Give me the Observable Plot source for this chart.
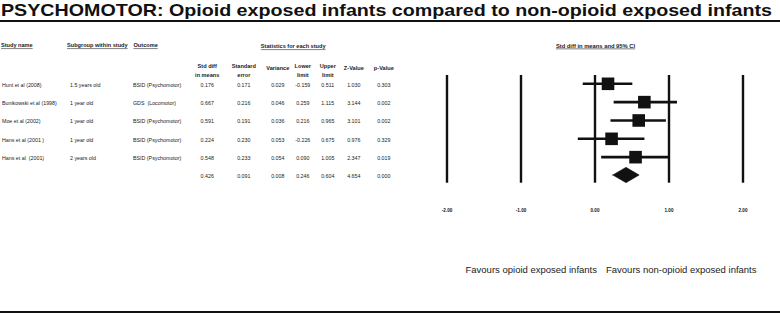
<!DOCTYPE html>
<html><head><meta charset="utf-8">
<script src="https://cdn.jsdelivr.net/npm/d3@7"></script>
<script src="https://cdn.jsdelivr.net/npm/@observablehq/plot@0.6"></script>
<style>
html,body{margin:0;padding:0;background:#fff;}
#wrap{position:relative;width:780px;height:313px;overflow:hidden;}
#wrap svg{position:absolute;left:0;top:0;}
.hr{position:absolute;left:0;width:780px;background:#111;}
</style></head><body><div id="wrap"></div>
<script>
// ---------- data ----------
const title = "PSYCHOMOTOR: Opioid exposed infants compared to non-opioid exposed infants";
const studies   = ["Hunt et al (2008)", "Bunikowski et al (1998)", "Moe et al (2002)", "Hans et al (2001 )", "Hans et al  (2001)"];
const subgroups = ["1.5 years old", "1 year old", "1 year old", "1 year old", "2 years old"];
const outcomes  = ["BSID (Psychomotor)", "GDS  (Locomotor)", "BSID (Psychomotor)", "BSID (Psychomotor)", "BSID (Psychomotor)"];
// last entry of each statistic = pooled (summary) row
const stdDiff  = [0.176, 0.667, 0.591, 0.224, 0.548, 0.426];
const stdErr   = [0.171, 0.216, 0.191, 0.230, 0.233, 0.091];
const variance = [0.029, 0.046, 0.036, 0.053, 0.054, 0.008];
const lower    = [-0.159, 0.259, 0.216, -0.226, 0.090, 0.246];
const upper    = [0.511, 1.115, 0.965, 0.675, 1.005, 0.604];
const zValue   = [1.030, 3.144, 3.101, 0.976, 2.347, 4.654];
const pValue   = [0.303, 0.002, 0.002, 0.329, 0.019, 0.000];
const tickValues = [-2, -1, 0, 1, 2];
const tickLabels = ["-2.00", "-1.00", "0.00", "1.00", "2.00"];
const favourLeft  = "Favours opioid exposed infants";
const favourRight = "Favours non-opioid exposed infants";
const leftHeaders  = ["Study name", "Subgroup within study", "Outcome"];
const statsHeader  = "Statistics for each study";
const plotHeader   = "Std diff in means and 95% CI";
const twoLineHeaders = ["Std diff\nin means", "Standard\nerror", "Lower\nlimit", "Upper\nlimit"];
const oneLineHeaders = ["Variance", "Z-Value", "p-Value"];

// ---------- layout (pixels, not data) ----------
const FONT = "Liberation Sans, Arial, Helvetica, sans-serif";
const leftColX   = [1.5, 69.5, 132.5];
const leftHeadX  = [0.5, 66.5, 133];
const twoLineX   = [206.7, 243.3, 302.3, 327.3];
const oneLineX   = [277.3, 353.3, 383.3];
const numColX    = [206.7, 243.3, 277.3, 302.3, 327.3, 353.3, 383.3];
const HEAD_FS = 5.6, DATA_FS = 5.3;

const rows = stdDiff.map((d, i) => ({
  i, study: studies[i] ?? "", subgroup: subgroups[i] ?? "", outcome: outcomes[i] ?? "",
  stdDiff: d, stdErr: stdErr[i], variance: variance[i], lower: lower[i], upper: upper[i],
  z: zValue[i], p: pValue[i]
}));
const studyRows = rows.slice(0, studies.length);
const pooled = rows[rows.length - 1];
const fmt = v => v.toFixed(3);
const numKeys = ["stdDiff", "stdErr", "variance", "lower", "upper", "z", "p"];
const strKeys = ["study", "subgroup", "outcome"];

const H = 0.42; // diamond half height in row units
const diamond = [
  {x: pooled.lower, y1: pooled.i, y2: pooled.i},
  {x: pooled.stdDiff, y1: pooled.i - H, y2: pooled.i + H},
  {x: pooled.upper, y1: pooled.i, y2: pooled.i}
];

const txt = "#222";
const marks = [];
marks.push(Plot.text([title], {text: d => d, frameAnchor: "top-left", dx: 0.5, dy: 3.4, lineAnchor: "top",
  fontSize: 16.4, fontWeight: "bold", fill: "#111", textAnchor: "start"}));
leftHeaders.forEach((h, k) => marks.push(Plot.text([h], {text: d => d, frameAnchor: "top-left", dx: leftHeadX[k], dy: 43,
  textAnchor: "start", fontWeight: "bold", fontSize: HEAD_FS, fill: txt})));
marks.push(Plot.text([statsHeader], {text: d => d, frameAnchor: "top-left", dx: 292.7, dy: 44,
  textAnchor: "middle", fontWeight: "bold", fontSize: HEAD_FS, fill: txt}));
marks.push(Plot.text([plotHeader], {text: d => d, frameAnchor: "top-left", dx: 595, dy: 43,
  textAnchor: "middle", fontWeight: "bold", fontSize: 5.8, fill: txt}));
twoLineHeaders.forEach((h, k) => marks.push(Plot.text([h], {text: d => d, frameAnchor: "top-left", dx: twoLineX[k], dy: 61.5,
  textAnchor: "middle", lineHeight: 1.55, fontWeight: "bold", fontSize: HEAD_FS, fill: txt})));
oneLineHeaders.forEach((h, k) => marks.push(Plot.text([h], {text: d => d, frameAnchor: "top-left", dx: oneLineX[k], dy: 65.8,
  textAnchor: "middle", fontWeight: "bold", fontSize: HEAD_FS, fill: txt})));
strKeys.forEach((k, c) => marks.push(Plot.text(studyRows, {y: "i", text: k, frameAnchor: "left", dx: leftColX[c], dy: 1,
  textAnchor: "start", fontSize: DATA_FS, fill: txt})));
numKeys.forEach((k, c) => marks.push(Plot.text(rows, {y: "i", text: d => fmt(d[k]), frameAnchor: "left", dx: numColX[c], dy: 1,
  textAnchor: "middle", fontSize: DATA_FS, fill: txt})));
marks.push(Plot.ruleX(tickValues, {insetTop: 75, insetBottom: 130.3, stroke: "#111", strokeWidth: 2.4}));
marks.push(Plot.ruleY(studyRows, {y: "i", x1: "lower", x2: "upper", stroke: "#111", strokeWidth: 2.6}));
marks.push(Plot.dot(studyRows, {y: "i", x: "stdDiff", symbol: "square", r: 7.1, fill: "#111", stroke: "none"}));
marks.push(Plot.areaY(diamond, {x: "x", y1: "y1", y2: "y2", fill: "#111", stroke: "#111", strokeWidth: 0.5}));
marks.push(Plot.text(tickValues, {x: d => d, text: (d, i) => tickLabels[i], frameAnchor: "top", dy: 208.3,
  fontWeight: "bold", fontSize: 4.6, fill: "#111"}));
marks.push(Plot.text([favourLeft], {x: () => 0, text: d => d, frameAnchor: "top", dy: 266, dx: 2,
  textAnchor: "end", fontSize: 9.5, fill: txt}));
marks.push(Plot.text([favourRight], {x: () => 0, text: d => d, frameAnchor: "top", dy: 266, dx: 11,
  textAnchor: "start", fontSize: 9.5, fill: txt}));

const chart = Plot.plot({
  width: 780, height: 313,
  marginTop: 0, marginRight: 0, marginBottom: 0, marginLeft: 0,
  x: {domain: [-2, 2], range: [446.5, 742.5], axis: null},
  y: {domain: [0, 5], range: [83.3, 175], axis: null},
  style: {fontFamily: FONT, fontSize: "5px", background: "white", overflow: "visible"},
  marks
});
const wrap = document.getElementById("wrap");
wrap.appendChild(chart);
const underlined = new Set([...leftHeaders, statsHeader, plotHeader]);
chart.querySelectorAll("text").forEach(t => {
  const s = t.textContent;
  if (underlined.has(s)) t.setAttribute("text-decoration", "underline");
  if (s === title) {
    t.setAttribute("textLength", "771");
    t.setAttribute("lengthAdjust", "spacingAndGlyphs");
  }
});
const ruleTop = document.createElement("div"); ruleTop.className = "hr"; ruleTop.style.top = "19.7px"; ruleTop.style.height = "2px";
const ruleBot = document.createElement("div"); ruleBot.className = "hr"; ruleBot.style.top = "310.6px"; ruleBot.style.height = "2.4px";
wrap.appendChild(ruleTop); wrap.appendChild(ruleBot);
</script></body></html>
